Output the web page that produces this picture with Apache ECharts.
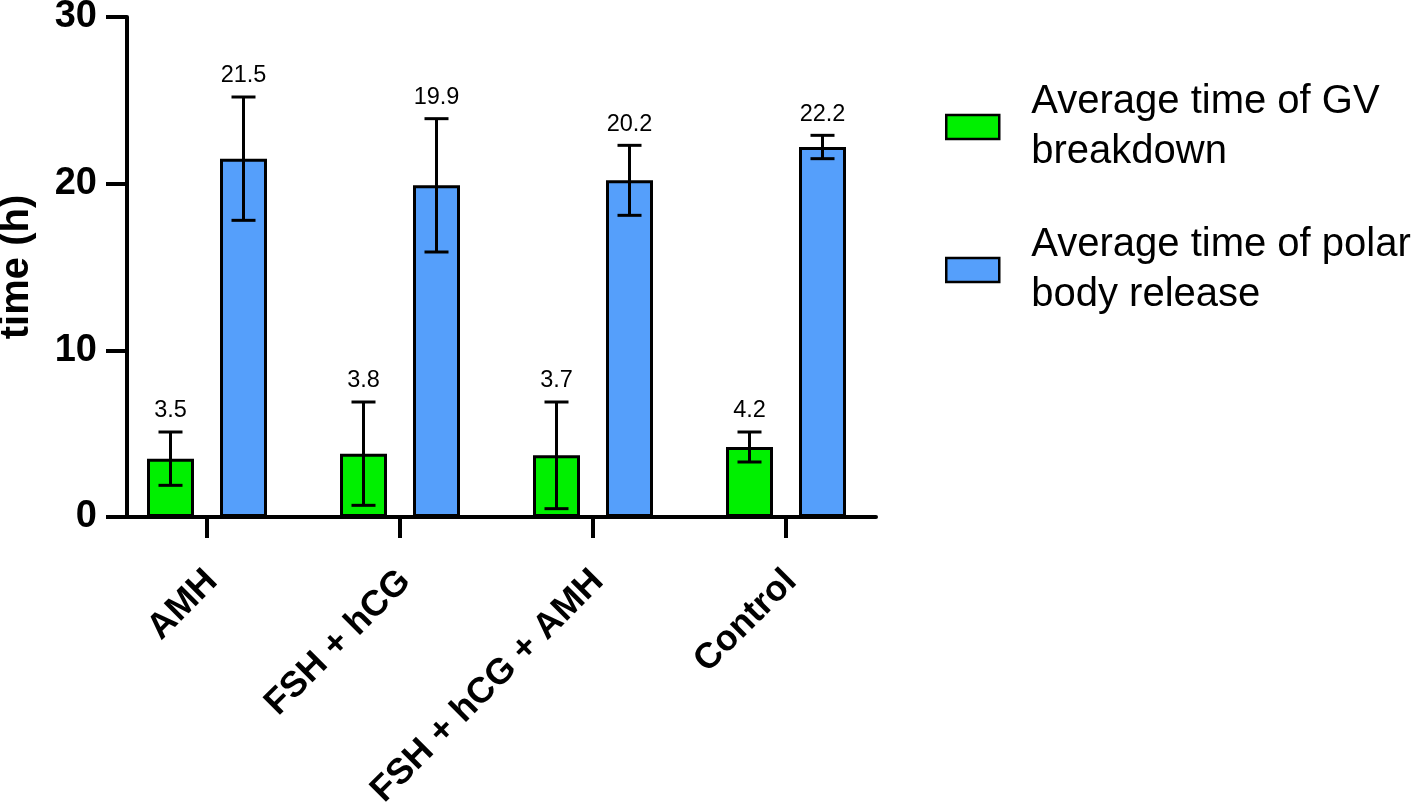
<!DOCTYPE html>
<html>
<head>
<meta charset="utf-8">
<script src="https://cdn.jsdelivr.net/npm/echarts@6/dist/echarts.min.js"></script>
<style>html,body{margin:0;padding:0;background:#fff}#c{width:1424px;height:804px}</style>
</head>
<body>
<div id="c"></div>
<script>
const categories = ['AMH', 'FSH + hCG', 'FSH + hCG + AMH', 'Control'];
const seriesNames = ['Average time of GV\nbreakdown', 'Average time of polar\nbody release'];
const gvMean = [3.5, 3.8, 3.7, 4.2];
const gvErr = [1.6, 3.1, 3.2, 0.9];
const pbMean = [21.5, 19.9, 20.2, 22.2];
const pbErr = [3.7, 4.0, 2.1, 0.7];
const yTicks = [0, 10, 20, 30];

const FONT = 'Liberation Sans, Arial, Helvetica, sans-serif';
const BAR_W = 47, GAP_PX = 26, CAP = 24;
const COLORS = ['#00f000', '#559ffb'];

function errSeries(means, errs, idx) {
  const sign = idx === 0 ? -1 : 1;
  return {
    type: 'custom', xAxisIndex: 0, yAxisIndex: 0, z: 10, silent: true,
    data: means.map((m, i) => [i, m, errs[i]]),
    renderItem: function (params, api) {
      const i = api.value(0), m = api.value(1), e = api.value(2);
      const c = api.coord([i, m]);
      const x = c[0] + sign * (BAR_W + GAP_PX) / 2;
      const yT = api.coord([i, m + e])[1];
      const yB = api.coord([i, m - e])[1];
      const st = { stroke: '#000', lineWidth: 3 };
      return {
        type: 'group', children: [
          { type: 'line', shape: { x1: x, y1: yT, x2: x, y2: yB }, style: st },
          { type: 'line', shape: { x1: x - CAP / 2, y1: yT, x2: x + CAP / 2, y2: yT }, style: st },
          { type: 'line', shape: { x1: x - CAP / 2, y1: yB, x2: x + CAP / 2, y2: yB }, style: st },
          { type: 'text', x: x, y: yT - 9, style: { text: m.toFixed(1), font: '23.5px ' + FONT, fill: '#000', textAlign: 'center', textVerticalAlign: 'bottom' } }
        ]
      };
    }
  };
}

const chart = echarts.init(document.getElementById('c'), null, { renderer: 'canvas' });
chart.setOption({
  animation: false,
  backgroundColor: '#fff',
  textStyle: { fontFamily: FONT },
  grid: [
    { left: 110.5, width: 772, top: 17, height: 500, outerBoundsMode: 'none', containLabel: false },
    { left: 127, width: 749, top: 17, height: 500, outerBoundsMode: 'none', containLabel: false }
  ],
  legend: {
    orient: 'vertical', left: 945, top: 77, padding: 0,
    itemWidth: 53, itemHeight: 24, itemGap: 43, icon: 'rect',
    selectedMode: false,
    data: seriesNames,
    itemStyle: { borderColor: '#000', borderWidth: 2.5 },
    textStyle: { fontSize: 40, lineHeight: 50, color: '#000', fontFamily: FONT, padding: [0, 0, 0, 27] }
  },
  xAxis: [
    {
      type: 'category', gridIndex: 0, data: categories,
      axisLine: { show: false },
      axisTick: { show: true, alignWithLabel: true, interval: 0, length: 21, lineStyle: { color: '#000', width: 4 } },
      axisLabel: { interval: 0, rotate: 45, margin: 54, align: 'right', verticalAlign: 'top', padding: [-11, 0, 0, 0], fontSize: 36, fontWeight: 'bold', color: '#000', fontFamily: FONT }
    },
    {
      type: 'value', gridIndex: 1, min: 0, max: 1,
      axisLine: { show: true, lineStyle: { color: '#000', width: 4 } },
      axisTick: { show: false }, axisLabel: { show: false }, splitLine: { show: false }
    }
  ],
  yAxis: [
    { type: 'value', gridIndex: 0, min: 0, max: 30, interval: 10, show: false },
    {
      type: 'value', gridIndex: 1, min: yTicks[0], max: yTicks[yTicks.length - 1], interval: 10,
      axisLine: { show: true, lineStyle: { color: '#000', width: 4 } },
      axisTick: { show: true, length: 21, lineStyle: { color: '#000', width: 4 } },
      axisLabel: { margin: 30, fontSize: 38, fontWeight: 'bold', color: '#000', fontFamily: FONT },
      splitLine: { show: false },
      name: 'time (h)', nameLocation: 'middle', nameGap: 90,
      nameTextStyle: { fontSize: 40, fontWeight: 'bold', color: '#000', fontFamily: FONT }
    }
  ],
  series: [
    {
      name: seriesNames[0], type: 'bar', xAxisIndex: 0, yAxisIndex: 0,
      data: gvMean, barWidth: BAR_W, barGap: (GAP_PX / BAR_W * 100) + '%',
      itemStyle: { color: COLORS[0], borderColor: '#000', borderWidth: 3 }
    },
    {
      name: seriesNames[1], type: 'bar', xAxisIndex: 0, yAxisIndex: 0,
      data: pbMean, barWidth: BAR_W, barGap: (GAP_PX / BAR_W * 100) + '%',
      itemStyle: { color: COLORS[1], borderColor: '#000', borderWidth: 3 }
    },
    errSeries(gvMean, gvErr, 0),
    errSeries(pbMean, pbErr, 1)
  ]
});
</script>
</body>
</html>
